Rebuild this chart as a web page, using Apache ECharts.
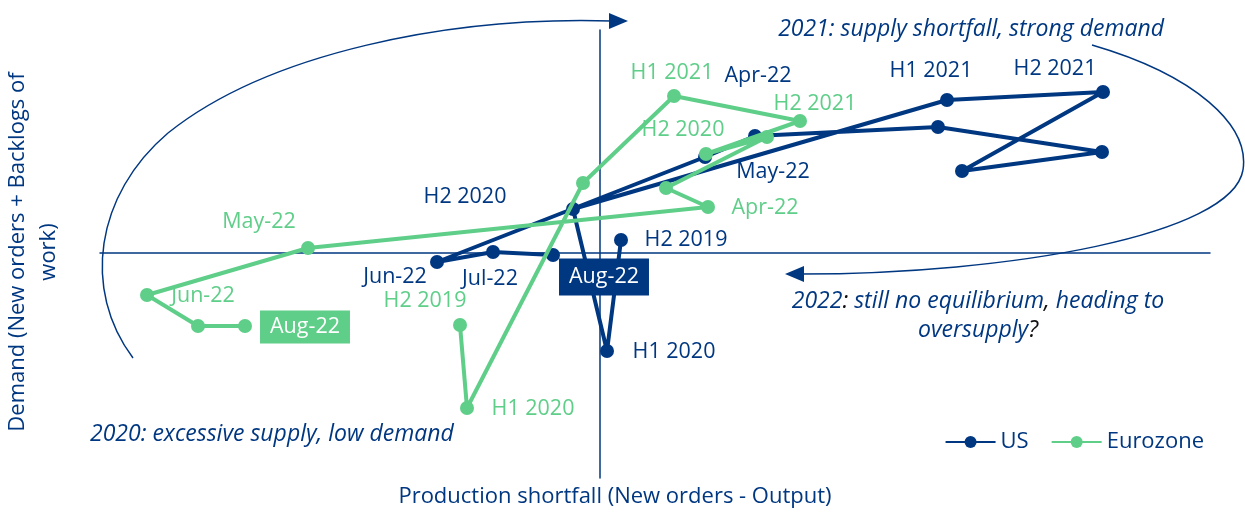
<!DOCTYPE html>
<html>
  <head>
    <meta charset="UTF-8">
    <title>supply-demand-loop</title>
    <script src="https://cdn.jsdelivr.net/npm/echarts@6/dist/echarts.min.js"></script>
    <style>
      html, body { margin: 0; padding: 0; background: #fff; }
      #main { width: 1245px; height: 512px; }
    </style>
  </head>
  <body>
    <div id="main"></div>
    <script>
// periods (same for both series)
var periods = ['H2 2019', 'H1 2020', 'H2 2020', 'H1 2021', 'H2 2021', 'Jan-22', 'Feb-22', 'Mar-22', 'Apr-22', 'May-22', 'Jun-22', 'Jul-22', 'Aug-22'];

// US : production shortfall (x) / demand (y)
var usShortfall = [0.42, 0.14, -0.54, 6.94, 10.06, 7.24, 10.04, 6.76, 3.1, 2.1, -3.26, -2.14, -0.94];
var usDemand    = [0.26, -1.96, 0.88, 3.06, 3.22, 1.64, 2.02, 2.52, 2.34, 1.92, -0.18, 0.02, -0.04];

// Eurozone
var ezShortfall = [-2.8, -2.66, -0.34, 1.48, 4.0, 2.12, 3.34, 1.32, 2.16, -5.84, -9.06, -8.04, -7.1];
var ezDemand    = [-1.44, -3.1, 1.4, 3.14, 2.64, 1.98, 2.32, 1.3, 0.92, 0.1, -0.84, -1.46, -1.46];

// where the point labels sit (px offset from the point), null = no label
var usLabelOffsets = [[65, 0], [67, 1], [-108, -12], [-16, -29], [-48, -23], null, null, null, [3, -60], [68, 15], [-42, 15], [-3, 27], [51, 22]];
var ezLabelOffsets = [[-35, -24], [66, 1], [100, -53], [-2, -23], [15, -17], null, null, null, [57, 1], [-49, -26], [56, 1], null, [60, 1]];

var NAVY = '#003781';
var GREEN = '#5fce89';
var FONT = 'Open Sans';

function buildPoints(xs, ys, offsets, color) {
    var pts = [];
    for (var i = 0; i < periods.length; i++) {
        var item = { name: periods[i], value: [xs[i], ys[i]] };
        if (offsets[i]) {
            var lab = {
                show: true,
                position: 'inside',
                offset: offsets[i],
                formatter: '{b}',
                color: color,
                fontSize: 21.5,
                fontFamily: FONT
            };
            if (i === periods.length - 1) {
                // latest month gets a filled box
                lab.color = '#fff';
                lab.backgroundColor = color;
                lab.padding = color === NAVY ? [8, 10, 7, 10] : [6, 10, 5, 10];
            }
            item.label = lab;
        }
        pts.push(item);
    }
    return pts;
}

function curve(x1, y1, c1x, c1y, c2x, c2y, x2, y2) {
    return {
        type: 'bezierCurve', silent: true,
        shape: { x1: x1, y1: y1, cpx1: c1x, cpy1: c1y, cpx2: c2x, cpy2: c2y, x2: x2, y2: y2 },
        style: { fill: null, stroke: NAVY, lineWidth: 1.5 }
    };
}

var chartDom = document.getElementById('main');
var myChart = echarts.init(chartDom);

var option = {
    animation: false,
    textStyle: { fontFamily: FONT },
    grid: { left: 100, right: 35, top: 30, bottom: 34 },
    xAxis: {
        type: 'value',
        min: -10,
        max: 12.2,
        axisLine: { onZero: true, lineStyle: { color: NAVY, width: 1.5 } },
        axisTick: { show: false },
        axisLabel: { show: false },
        splitLine: { show: false }
    },
    yAxis: {
        type: 'value',
        min: -4.5,
        max: 4.46,
        axisLine: { onZero: true, lineStyle: { color: NAVY, width: 1.5 } },
        axisTick: { show: false },
        axisLabel: { show: false },
        splitLine: { show: false }
    },
    legend: {
        right: 36,
        top: 426,
        itemWidth: 50,
        itemHeight: 15,
        itemGap: 22,
        textStyle: { color: NAVY, fontSize: 22, fontFamily: FONT },
        data: ['US', 'Eurozone']
    },
    graphic: [
        // axis titles
        {
            type: 'text', x: 615, y: 497,
            style: { text: 'Production shortfall (New orders - Output)', fill: NAVY, font: '22px "Open Sans"', align: 'center', verticalAlign: 'middle' }
        },
        {
            type: 'text', x: 33, y: 252, rotation: Math.PI / 2,
            style: {
                text: 'Demand (New orders + Backlogs of\nwork)',
                fill: NAVY, font: '22px "Open Sans"', lineHeight: 31,
                align: 'center', verticalAlign: 'middle'
            }
        },
        // annotations
        {
            type: 'text', x: 1164, y: 29,
            style: { text: '2021: supply shortfall, strong demand', fill: NAVY, font: 'italic 23px "Open Sans"', align: 'right', verticalAlign: 'middle' }
        },
        {
            type: 'text', x: 978, y: 316,
            style: {
                text: '2022{k|:} still no equilibrium{k|,} heading to\noversupply{k|?}',
                fill: NAVY, font: 'italic 23px "Open Sans"', lineHeight: 29,
                align: 'center', verticalAlign: 'middle',
                rich: { k: { fill: '#111', font: 'italic 23px "Open Sans"' } }
            }
        },
        {
            type: 'text', x: 90, y: 434,
            style: { text: '2020: excessive supply, low demand', fill: NAVY, font: 'italic 23px "Open Sans"', align: 'left', verticalAlign: 'middle' }
        },
        // cycle arrows
        curve(133, 358, 82, 290, 95, 195, 168, 133),
        curve(168, 133, 268, 53, 450, 16, 612, 21),
        {
            type: 'polygon', silent: true,
            shape: { points: [[609, 13], [628, 21], [609, 29]] },
            style: { fill: NAVY }
        },
        curve(1092, 45, 1195, 75, 1250, 125, 1243, 170),
        curve(1243, 170, 1232, 235, 1010, 274, 800, 274),
        {
            type: 'polygon', silent: true,
            shape: { points: [[804, 266], [785, 274], [804, 282]] },
            style: { fill: NAVY }
        }
    ],
    series: [
        {
            name: 'US',
            type: 'line',
            symbol: 'circle',
            symbolSize: 14,
            showSymbol: true,
            color: NAVY,
            lineStyle: { width: 4, color: NAVY },
            label: { show: false },
            data: buildPoints(usShortfall, usDemand, usLabelOffsets, NAVY),
            z: 3
        },
        {
            name: 'Eurozone',
            type: 'line',
            symbol: 'circle',
            symbolSize: 14,
            showSymbol: true,
            color: GREEN,
            lineStyle: { width: 4, color: GREEN },
            label: { show: false },
            data: buildPoints(ezShortfall, ezDemand, ezLabelOffsets, GREEN),
            z: 4
        }
    ]
};

myChart.setOption(option);
    </script>
  </body>
</html>
